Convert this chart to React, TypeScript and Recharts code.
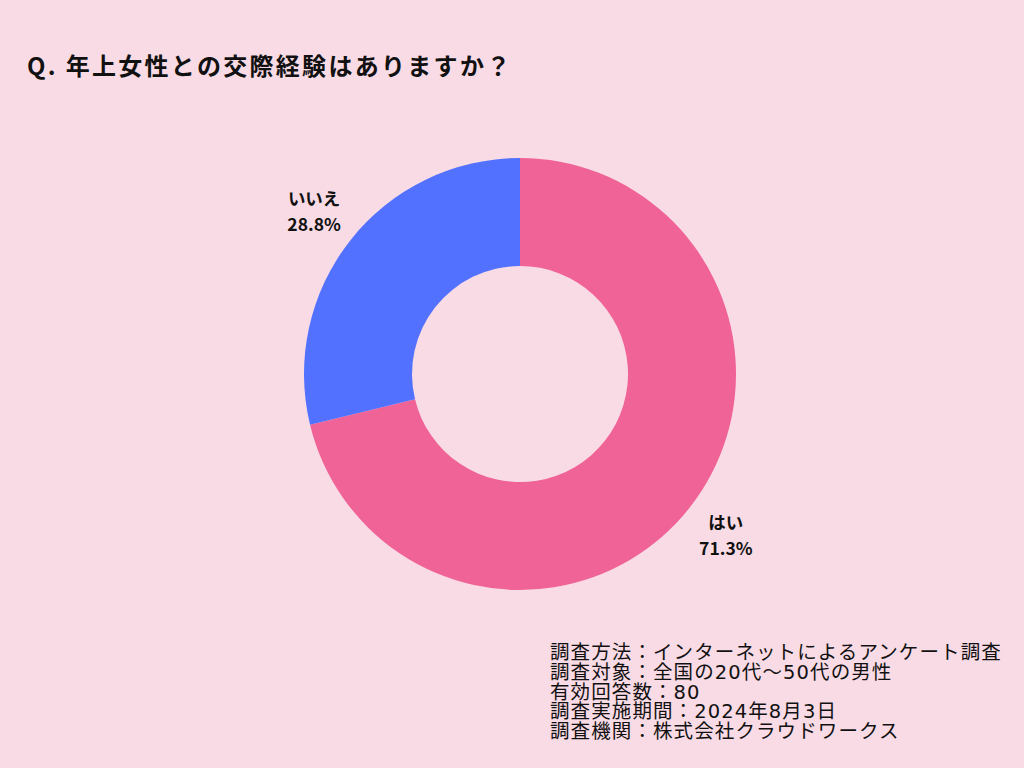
import React from "react";
import { PieChart, Pie, Cell } from "recharts";

const categories = ["はい", "いいえ"];
const values = [71.3, 28.8];
const colors = ["#F06396", "#5271FF"];
const title = "Q. 年上女性との交際経験はありますか？";
const notes = [
  "調査方法：インターネットによるアンケート調査",
  "調査対象：全国の20代〜50代の男性",
  "有効回答数：80",
  "調査実施期間：2024年8月3日",
  "調査機関：株式会社クラウドワークス",
];

const data = categories.map((name, i) => ({ name, value: values[i] }));

const RAD = Math.PI / 180;
const renderLabel = (props: any) => {
  const { cx, cy, midAngle, outerRadius, name, value } = props;
  const r = outerRadius + 46;
  const x = cx + r * Math.cos(-midAngle * RAD);
  const y = cy + r * Math.sin(-midAngle * RAD);
  return (
    <text
      x={x}
      y={y}
      textAnchor="middle"
      fill="#111"
      fontFamily="'Noto Sans CJK JP', 'Noto Sans', sans-serif"
      fontWeight="bold"
      fontSize={17.5}
    >
      <tspan x={x} dy={-7}>{name}</tspan>
      <tspan x={x} dy={26}>{value.toFixed(1)}%</tspan>
    </text>
  );
};

export default function App() {
  return (
    <div
      style={{
        position: "fixed",
        left: 0,
        top: 0,
        width: 1024,
        height: 768,
        background: "#F9DBE5",
        overflow: "hidden",
      }}
    >
      <div
        style={{
          position: "absolute",
          left: 27,
          top: 47,
          fontFamily: "'Noto Sans CJK JP', sans-serif",
          fontWeight: "bold",
          fontSize: 24,
          letterSpacing: 2.3,
          color: "#111",
          whiteSpace: "nowrap",
        }}
      >
        {title}
      </div>
      <div style={{ position: "absolute", left: 0, top: 0 }}>
        <PieChart width={1024} height={768} margin={{ top: 0, right: 0, bottom: 0, left: 0 }}>
          <Pie
            data={data}
            dataKey="value"
            nameKey="name"
            cx={520}
            cy={374}
            innerRadius={108}
            outerRadius={216}
            startAngle={90}
            endAngle={-270}
            stroke="none"
            label={renderLabel}
            labelLine={false}
            isAnimationActive={false}
          >
            {data.map((d, i) => (
              <Cell key={d.name} fill={colors[i]} />
            ))}
          </Pie>
        </PieChart>
      </div>
      <div
        style={{
          position: "absolute",
          left: 550,
          top: 643,
          fontFamily: "'DejaVu Sans', 'Noto Sans CJK JP', sans-serif",
          fontSize: 19.5,
          letterSpacing: 1.1,
          lineHeight: "19.8px",
          color: "#111",
          whiteSpace: "nowrap",
        }}
      >
        {notes.map((n) => (
          <div key={n}>{n}</div>
        ))}
      </div>
    </div>
  );
}
